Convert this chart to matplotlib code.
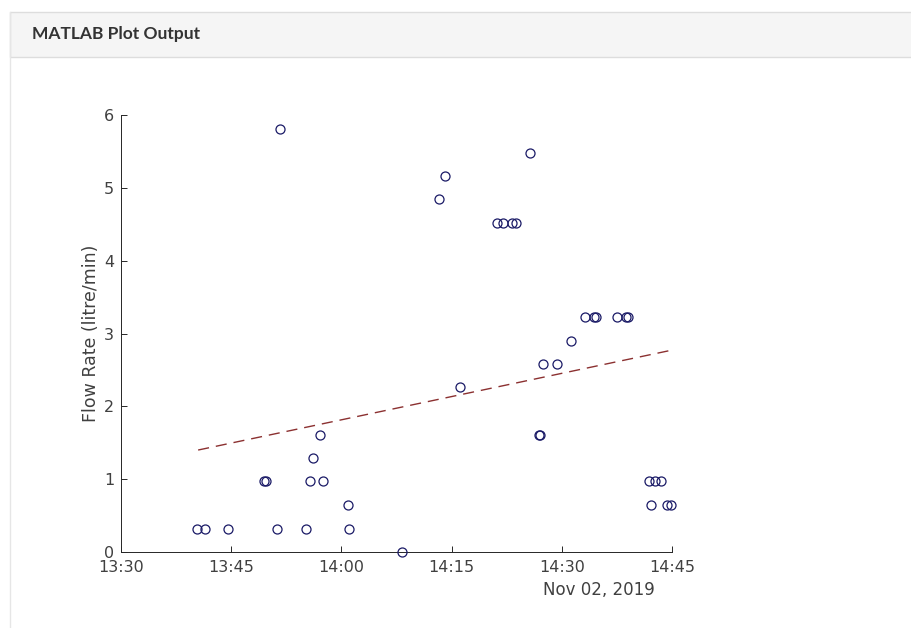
import matplotlib
matplotlib.use("Agg")
import matplotlib.pyplot as plt
import matplotlib.dates as mdates
from matplotlib.patches import Rectangle
from matplotlib.lines import Line2D
from datetime import datetime, timedelta

# ---- data (minutes after 13:00 on 2019-11-02, flow rate in litre/min) ----
sample_minutes = [40.4, 41.4, 44.6, 49.4, 49.8, 51.2, 51.7, 55.2, 55.7, 56.2,
                  57.1, 57.5, 60.9, 61.1, 68.2, 73.3, 74.1, 76.2, 81.2, 82.0,
                  83.2, 83.8, 85.7, 86.9, 87.1, 87.5, 89.3, 91.3, 93.2, 94.4,
                  94.7, 97.5, 98.7, 99.0, 101.9, 102.1, 102.7, 103.5, 104.3, 104.9]
flow_rate = [0.32, 0.32, 0.32, 0.97, 0.97, 0.32, 5.81, 0.32, 0.97, 1.29,
             1.61, 0.97, 0.65, 0.32, 0.00, 4.84, 5.16, 2.26, 4.52, 4.52,
             4.52, 4.52, 5.48, 1.61, 1.61, 2.58, 2.58, 2.90, 3.23, 3.23,
             3.23, 3.23, 3.23, 3.23, 0.97, 0.65, 0.97, 0.97, 0.65, 0.65]
trend_minutes = [40.5, 104.9]
trend_values = [1.40, 2.77]
x_range_minutes = [30, 105]
y_ticks = [0, 1, 2, 3, 4, 5, 6]

base = datetime(2019, 11, 2, 13, 0)
def to_dt(ms):
    return [base + timedelta(minutes=m) for m in ms]

W, H = 912, 628
fig = plt.figure(figsize=(W / 100, H / 100), dpi=100)
fig.patch.set_facecolor("white")

# panel chrome
fig.add_artist(Rectangle((10 / W, (H - 57) / H), 1.0, 45 / H, transform=fig.transFigure,
                         facecolor="#f5f5f5", edgecolor="#dddddd", linewidth=1.0))
fig.add_artist(Line2D([10 / W, 10 / W], [0, (H - 12) / H], transform=fig.transFigure,
                      color="#e6e6e6", linewidth=1.0))
fig.text(32 / W, (H - 34) / H, "MATLAB Plot Output", family="Lato", weight="bold",
         fontsize=12.5, color="#333333", ha="left", va="center")

ax = fig.add_axes([121 / W, 76 / H, 551 / W, 437 / H])
ax.plot(to_dt(trend_minutes), trend_values, linestyle=(0, (8, 5)), color="#8b3030",
        linewidth=1.0, zorder=2)
ax.plot(to_dt(sample_minutes), flow_rate, linestyle="none", marker="o", markersize=6.5,
        markerfacecolor="none", markeredgecolor="#1a1a66", markeredgewidth=0.9,
        zorder=3, clip_on=False)

ax.set_xlim(to_dt(x_range_minutes))
ax.set_ylim(0, 6)
ax.set_yticks(y_ticks)
ax.xaxis.set_major_locator(mdates.MinuteLocator(byminute=[0, 15, 30, 45]))
ax.xaxis.set_major_formatter(mdates.DateFormatter("%H:%M"))

for s in ["top", "right"]:
    ax.spines[s].set_visible(False)
for s in ["left", "bottom"]:
    ax.spines[s].set_color("#262626")
    ax.spines[s].set_linewidth(0.7)
ax.tick_params(direction="in", length=4, width=0.7, color="#262626",
               labelsize=11.5, labelcolor="#404040")
ax.tick_params(axis="x", pad=6)
ax.tick_params(axis="y", pad=5)
ax.set_ylabel("Flow Rate (litre/min)", fontsize=12.5, color="#404040", labelpad=3)

fig.text(599 / W, (H - 590) / H, "Nov 02, 2019", fontsize=12, color="#404040",
         ha="center", va="center")

fig.savefig("out.png", dpi=100)
